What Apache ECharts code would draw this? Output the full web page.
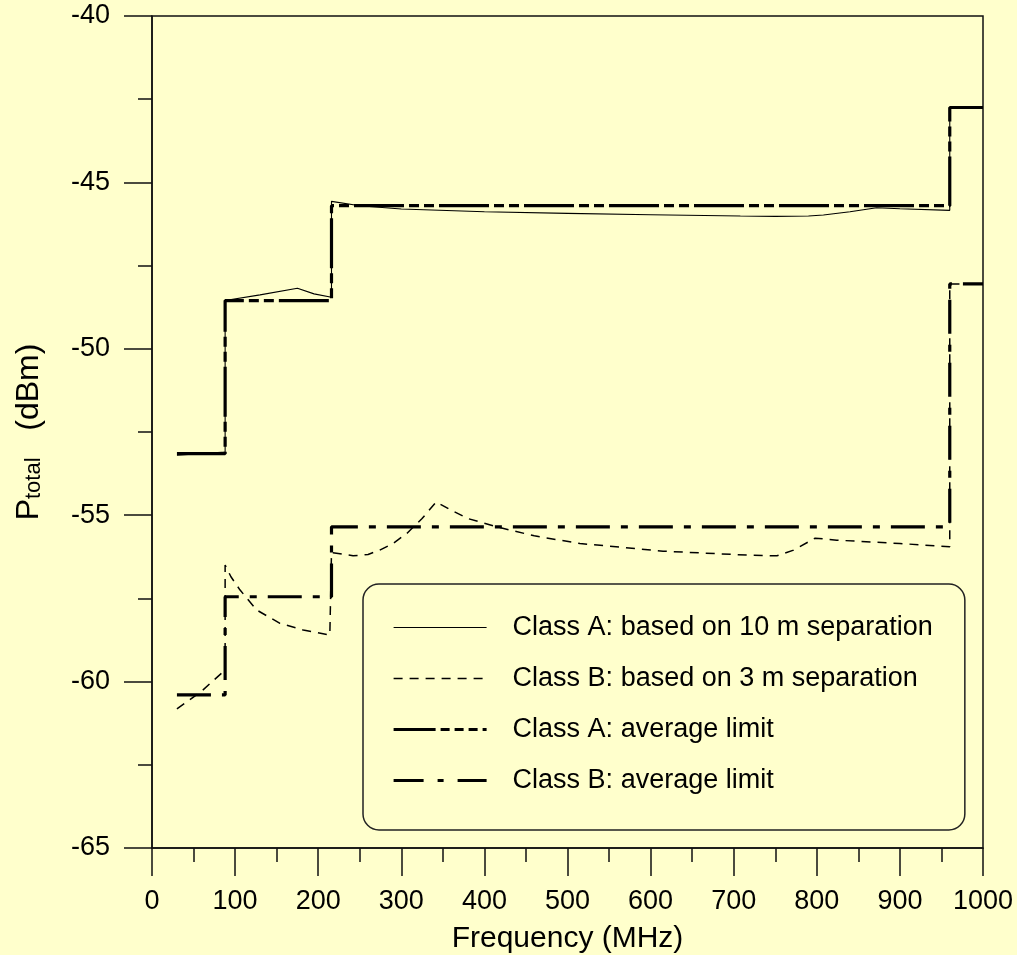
<!DOCTYPE html>
<html>
<head>
<meta charset="utf-8">
<script src="https://cdn.jsdelivr.net/npm/echarts@6/dist/echarts.min.js"></script>
<style>
html,body{margin:0;padding:0;background:#FFFFCC;}
#chart{width:1017px;height:955px;}
</style>
</head>
<body>
<div id="chart"></div>
<script>
// ---- data ----
const seriesNames = [
  'Class A: based on 10 m separation',
  'Class B: based on 3 m separation',
  'Class A: average limit',
  'Class B: average limit'
];

// Class A, 10 m separation (thin solid)
const freqA10 = [30, 88, 88, 130, 175, 195, 216, 216, 250, 300, 400, 500, 600, 708, 750, 790, 808, 840, 872, 900, 960, 960, 1000];
const ptotA10 = [-53.2, -53.1, -48.55, -48.38, -48.18, -48.35, -48.45, -45.57, -45.7, -45.8, -45.88, -45.93, -45.97, -46.01, -46.02, -46.01, -45.98, -45.88, -45.76, -45.79, -45.84, -42.75, -42.75];

// Class B, 3 m separation (thin dashed)
const freqB3 = [30, 60, 88, 88, 95, 106, 126, 154, 182, 214, 216, 216, 242, 260, 274, 290, 307, 325, 342, 360, 380, 415, 460, 515, 615, 716, 752, 772, 798, 824, 900, 960, 960, 1000];
const ptotB3 = [-60.82, -60.28, -59.65, -56.5, -56.85, -57.25, -57.85, -58.25, -58.45, -58.6, -58.6, -56.12, -56.22, -56.18, -56.05, -55.85, -55.54, -55.1, -54.6, -54.85, -55.1, -55.35, -55.62, -55.85, -56.08, -56.2, -56.22, -56.05, -55.69, -55.75, -55.85, -55.95, -48.05, -48.05];

// Average limits (step lines)
const freqLimit = [30, 88, 88, 216, 216, 960, 960, 1000];
const limitA = [-53.15, -53.15, -48.55, -48.55, -45.7, -45.7, -42.75, -42.75];
const limitB = [-60.4, -60.4, -57.45, -57.45, -55.35, -55.35, -48.05, -48.05];

// axis ticks
const xMin = 0, xMax = 1000, xStep = 100;
const yMin = -65, yMax = -40, yStep = 5;

function zip(xs, ys) { return xs.map((x, i) => [x, ys[i]]); }

const FONT = '"Liberation Sans", Arial, sans-serif';
const chart = echarts.init(document.getElementById('chart'), null, {renderer: 'canvas'});

const option = {
  backgroundColor: '#FFFFCC',
  animation: false,
  grid: {
    left: 152, top: 16, right: 34, bottom: 107,
    containLabel: false, outerBoundsMode: 'none',
    show: true, borderColor: '#111', borderWidth: 1.5, backgroundColor: 'transparent'
  },
  legend: {
    orient: 'vertical',
    left: 363, top: 584,
    padding: [30, 32, 36, 29],
    itemWidth: 93, itemHeight: 27, itemGap: 24,
    borderColor: '#222', borderWidth: 1.5, borderRadius: 16,
    backgroundColor: 'transparent',
    selectedMode: false,
    itemStyle: {opacity: 0},
    lineStyle: {width: 'inherit'},
    textStyle: {fontFamily: FONT, fontSize: 27, color: '#000', padding: [0, 0, 0, 21]},
    data: [
      {name: seriesNames[0]},
      {name: seriesNames[1], lineStyle: {type: [9, 7]}},
      {name: seriesNames[2], lineStyle: {type: [42, 5, 9, 5, 9, 5, 9, 5]}},
      {name: seriesNames[3], lineStyle: {type: [30, 14, 6, 14, 30]}}
    ]
  },
  xAxis: {
    type: 'value', min: xMin, max: xMax, interval: xStep,
    name: 'Frequency (MHz)', nameLocation: 'middle', nameGap: 76,
    nameTextStyle: {fontFamily: FONT, fontSize: 30, color: '#000'},
    axisLine: {show: true, lineStyle: {color: '#111', width: 1.5}},
    axisTick: {show: true, inside: false, length: 28, lineStyle: {color: '#111', width: 1.5}},
    minorTick: {show: true, splitNumber: 2, length: 14, lineStyle: {color: '#111', width: 1.5}},
    axisLabel: {margin: 40, fontFamily: FONT, fontSize: 27, color: '#000', showMinLabel: true, showMaxLabel: true,
      formatter: v => String(v)},
    splitLine: {show: false}
  },
  yAxis: {
    type: 'value', min: yMin, max: yMax, interval: yStep,
    name: '{p|P}{s|total}{p|   (dBm)}', nameLocation: 'middle', nameGap: 107,
    nameTextStyle: {
      fontFamily: FONT, color: '#000',
      rich: {
        p: {fontFamily: FONT, fontSize: 32, lineHeight: 38, verticalAlign: 'bottom', color: '#000'},
        s: {fontFamily: FONT, fontSize: 22, lineHeight: 22, verticalAlign: 'bottom', color: '#000'}
      }
    },
    axisLine: {show: true, lineStyle: {color: '#111', width: 1.5}},
    axisTick: {show: true, inside: false, length: 28, lineStyle: {color: '#111', width: 1.5}},
    minorTick: {show: true, splitNumber: 2, length: 14, lineStyle: {color: '#111', width: 1.5}},
    axisLabel: {margin: 42, fontFamily: FONT, fontSize: 27, color: '#000'},
    splitLine: {show: false}
  },
  series: [
    {
      name: seriesNames[2], type: 'line', symbol: 'none', z: 2,
      data: zip(freqLimit, limitA),
      lineStyle: {color: '#000', width: 3.2, type: [50, 5, 10, 5, 10, 5]}
    },
    {
      name: seriesNames[3], type: 'line', symbol: 'none', z: 2,
      data: zip(freqLimit, limitB),
      lineStyle: {color: '#000', width: 3.2, type: [34, 11, 7, 11]}
    },
    {
      name: seriesNames[0], type: 'line', symbol: 'none', z: 3,
      data: zip(freqA10, ptotA10),
      lineStyle: {color: '#000', width: 1.1, type: 'solid'}
    },
    {
      name: seriesNames[1], type: 'line', symbol: 'none', z: 3,
      data: zip(freqB3, ptotB3),
      lineStyle: {color: '#000', width: 1.5, type: [9, 7]}
    }
  ]
};
chart.setOption(option);
</script>
</body>
</html>
